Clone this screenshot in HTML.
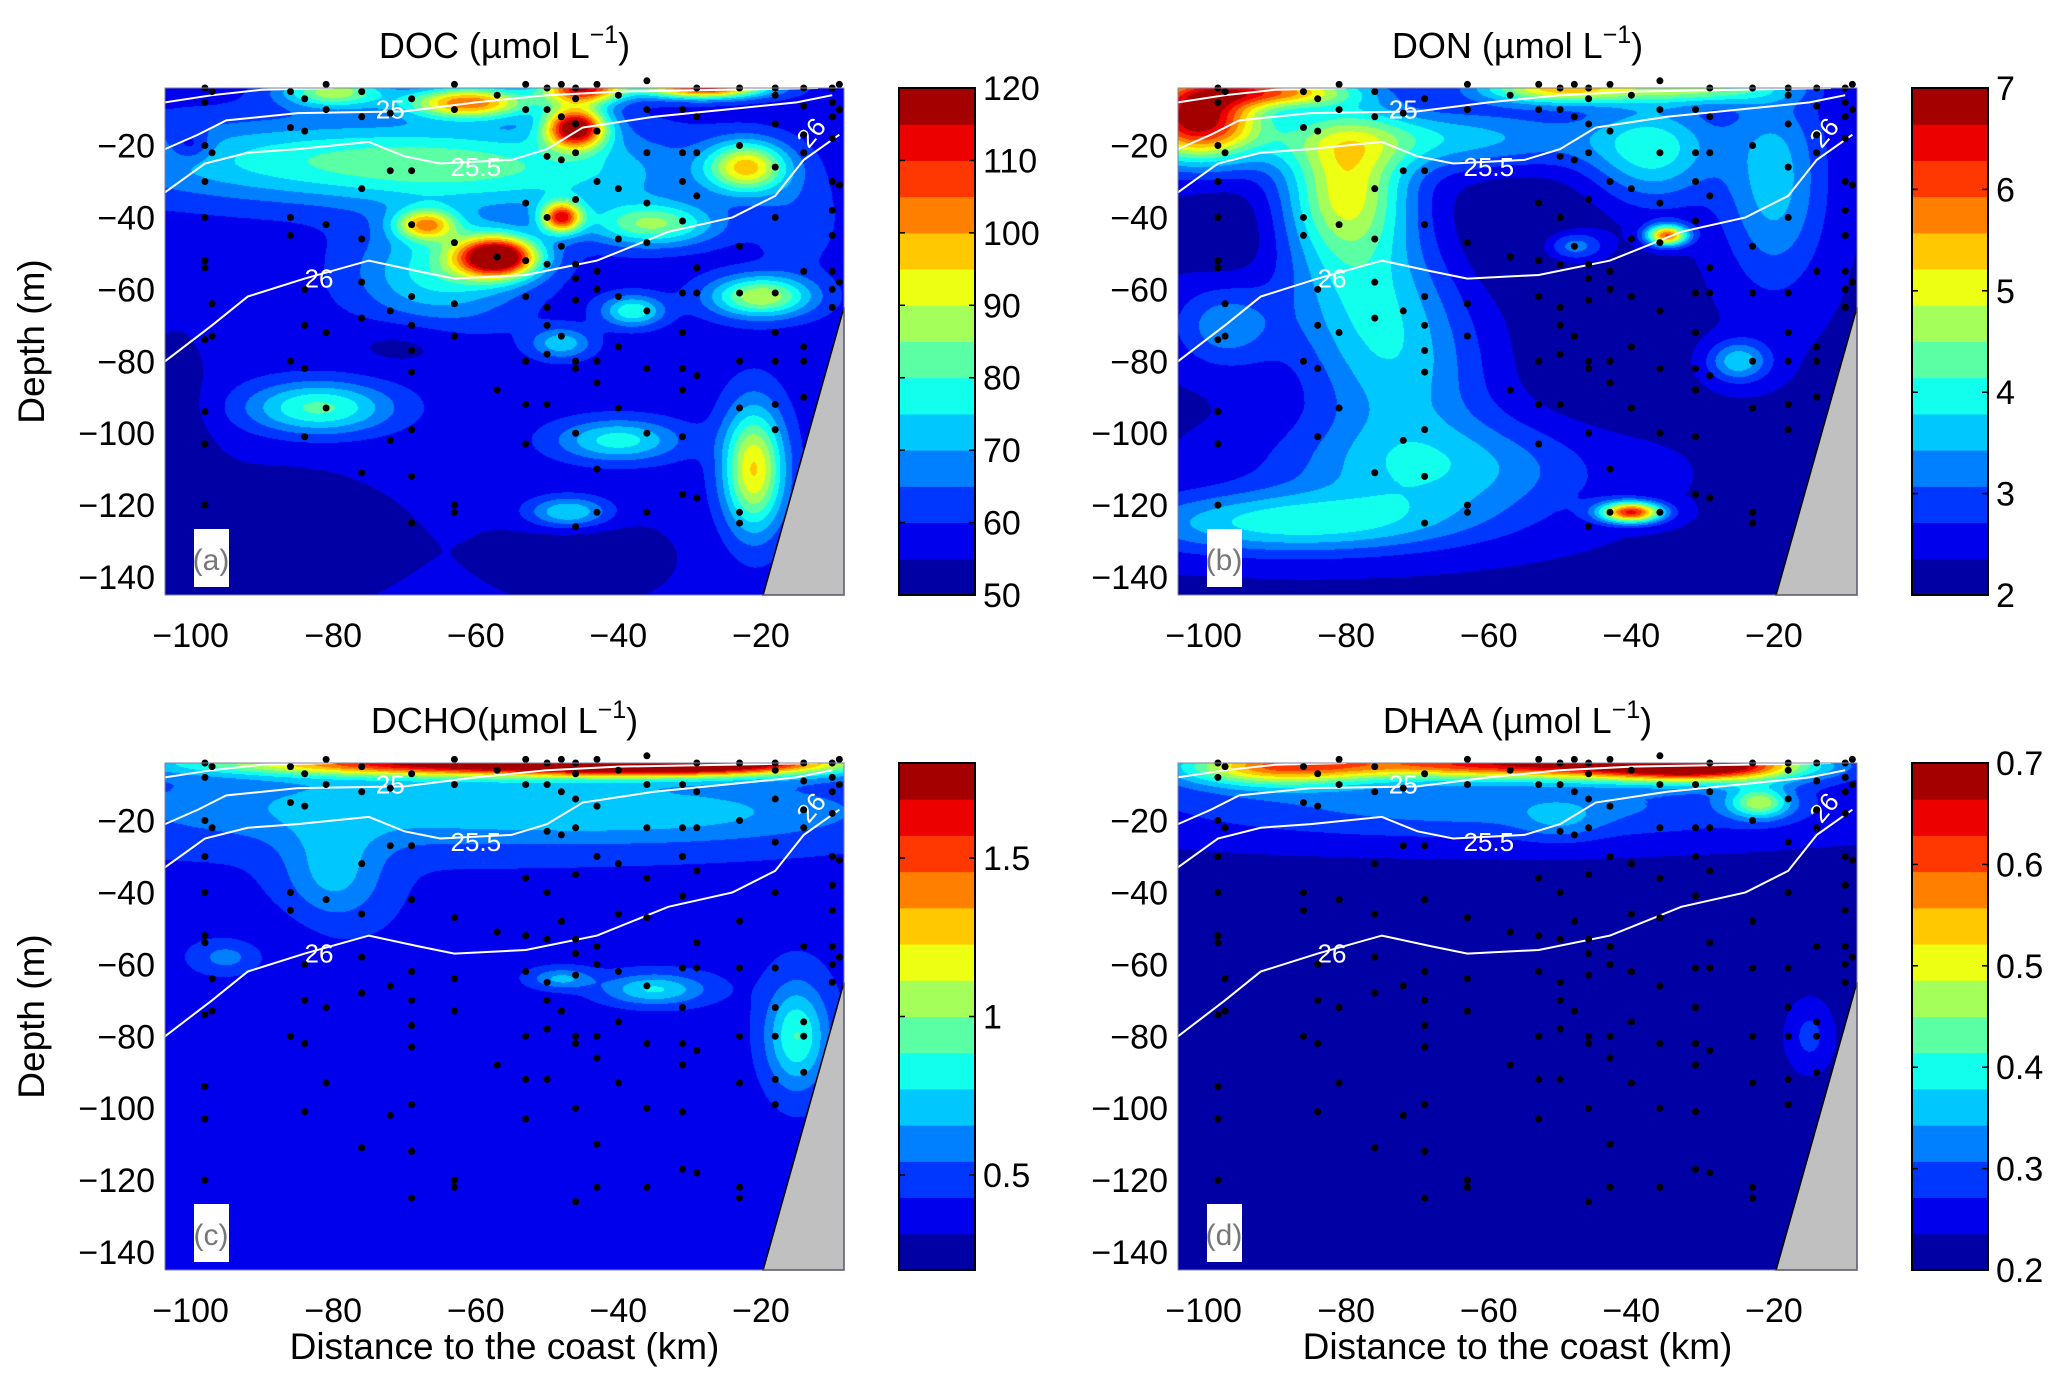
<!DOCTYPE html>
<html><head><meta charset="utf-8"><style>
body{margin:0;background:#fff;}
#root{position:relative;width:2067px;height:1385px;overflow:hidden;background:#fff;font-family:"Liberation Sans",sans-serif;}
canvas{position:absolute;}
svg{position:absolute;left:0;top:0;}
</style></head><body>
<div id="root">
<svg id="ov" width="2067" height="1385"></svg>
</div>
<script>
// ---- data ----
const xDomain=[-103.6,-8.35];
const yDomain=[-4,-145];
const xTicks=[-100,-80,-60,-40,-20];
const yTicks=[-20,-40,-60,-80,-100,-120,-140];
const titles=["DOC (µmol L","DON (µmol L","DCHO(µmol L","DHAA (µmol L"];
const panelLetters=["(a)","(b)","(c)","(d)"];
const ranges=[[50,120],[2,7],[0.2,1.8],[0.2,0.7]];
const cbTicksA=[50,60,70,80,90,100,110,120];
const cbTicksB=[2,3,4,5,6,7];
const cbTicksC=[0.5,1,1.5];
const cbTicksD=[0.2,0.3,0.4,0.5,0.6,0.7];
const backgrounds=[57.5,2.3,0.4,0.225];
// blobs: [x, depth, amplitude, sx, sy]
const blobsA=[[-57,-51,66,4,4],[-46,-15,60,3,4],[-61,-8,45,6,3],[-45,-4,55,4,3],[-28,-4,55,6,2],[-80,-5,30,5,3],[-67,-42,35,3,3],[-48,-40,48,2,3],[-85,-24,18,20,8],[-60,-26,16,15,8],[-22,-26,38,4,5],[-35,-42,25,6,4],[-65,-55,20,8,10],[-82,-93,24,7,5],[-40,-102,20,6,4],[-21,-110,38,3,12],[-47,-122,20,4,3],[-20,-62,32,5,4],[-38,-66,22,3,3],[-48,-75,16,3,3],[-90,-130,-7,15,15],[-45,-135,-6,10,10],[-70,-75,-5,6,5],[-102,-95,-5,4,20],[-100,-20,-10,2,3],[-40,-30,8,10,10],[-15,-40,6,4,10]];
const blobsB=[[-101,-12,4.5,6,8],[-90,-5,3,8,3],[-50,-4,3,8,3],[-30,-4,2,8,3],[-80,-32,2.6,6,14],[-77,-62,1.2,8,15],[-35,-45,3.6,2,2],[-40,-122,4,3,2],[-88,-125,1.6,16,6],[-68,-110,1.3,15,10],[-72,-85,1,8,15],[-37,-22,1.5,6,10],[-20,-30,1.3,5,20],[-48,-48,1.2,3,3],[-25,-80,1.4,3,4],[-97,-70,1,5,8],[-70,-18,1.4,20,6],[-45,-80,-0.3,8,15],[-95,-45,-0.3,5,10],[-55,-45,-0.4,8,12]];
const blobsC=[[-60,-4,1.3,25,2.5],[-30,-4,1.3,15,2.5],[-70,-16,0.3,30,8],[-30,-18,0.2,20,6],[-80,-35,0.3,5,10],[-15,-80,0.5,3,10],[-35,-67,0.4,5,3],[-48,-64,0.3,3,2],[-95,-58,0.2,3,3],[-60,-90,-0.07,25,15],[-30,-120,-0.06,8,8],[-85,-50,-0.05,6,8]];
const blobsD=[[-55,-4,0.42,20,3],[-30,-5,0.38,10,3],[-90,-5,0.28,10,4],[-60,-16,0.1,35,7],[-15,-80,0.06,2,6],[-50,-20,0.05,4,4],[-22,-15,0.2,3,3]];
const stations=[[-98,[-4,-8,-20,-30,-40,-52,-54,-74,-94,-103,-120]],[-97,[-5,-22,-64,-73]],[-86,[-5,-15,-40,-45,-80]],[-84,[-7,-16,-60,-70,-82,-101]],[-81,[-3,-10,-42,-72,-93]],[-76,[-5,-12,-32,-46,-58,-68,-111]],[-72,[-11,-27,-66,-102]],[-69,[-7,-27,-42,-62,-70,-77,-83,-99,-112,-125]],[-63,[-3,-10,-47,-64,-73,-120,-122]],[-57,[-6,-51,-88]],[-53,[-3,-10,-36,-52,-62,-80,-92,-103]],[-50,[-4,-10,-23,-40,-53,-65,-70,-78,-92]],[-48,[-3,-12,-24,-48,-73]],[-46,[-4,-7,-14,-22,-35,-53,-57,-63,-80,-82,-100,-126]],[-43,[-3,-16,-30,-55,-60,-80,-86,-110,-122]],[-40,[-6,-32,-46,-62,-76,-93]],[-36,[-2,-10,-22,-36,-47,-66,-82,-100,-122]],[-31,[-10,-22,-30,-41,-61,-72,-82,-88,-101,-117]],[-29,[-4,-12,-22,-34,-54,-61,-84,-118]],[-23,[-4,-20,-48,-61,-80,-93,-122,-125]],[-18,[-4,-6,-14,-26,-40,-61,-72,-80,-92,-99]],[-14,[-4,-9,-17,-22,-55,-76,-80,-90]],[-10,[-4,-8,-12,-18,-30,-38,-45,-55,-60,-65]],[-9,[-3,-10,-31,-58]]];
const iso25a=[[-103.6,-8],[-97,-6],[-90,-4.5],[-80,-4]];
const iso25=[[-103.6,-21],[-99,-17],[-95,-13],[-85,-11],[-70,-10.5],[-60,-8],[-50,-6],[-40,-5],[-25,-4.5],[-12,-4]];
const iso255=[[-103.6,-33],[-98,-25],[-92,-22],[-85,-21],[-75,-19],[-70,-23],[-65,-25],[-55,-24],[-50,-21],[-45,-15],[-35,-12],[-25,-10],[-15,-8],[-10,-6]];
const iso26=[[-103.6,-80],[-97,-70],[-92,-62],[-84,-57],[-75,-52],[-68,-55],[-63,-57],[-53,-56],[-43,-52],[-33,-44],[-24,-40],[-18,-34],[-14,-24],[-9,-17]];
const coastTop=-65, coastBottomX=-19.7;

// ---- layout ----
const panels=[{L:165,T:88},{L:1178,T:88},{L:165,T:763},{L:1178,T:763}];
const W=679,H=507,NB=14;
const blobs=[blobsA,blobsB,blobsC,blobsD];
const cbTicks=[cbTicksA,cbTicksB,cbTicksC,cbTicksD];
const NS="http://www.w3.org/2000/svg";
const ov=document.getElementById('ov');
const root=document.getElementById('root');
function jet(t){const c=v=>Math.round(255*Math.max(0,Math.min(1,v)));return [c(1.5-Math.abs(4*t-3)),c(1.5-Math.abs(4*t-2)),c(1.5-Math.abs(4*t-1))];}
const bandCol=[];for(let i=0;i<NB;i++)bandCol.push(jet((i+0.5)/NB));
function mk(tag,attrs,parent){const e=document.createElementNS(NS,tag);for(const k in attrs)e.setAttribute(k,attrs[k]);(parent||ov).appendChild(e);return e;}

panels.forEach((p,pi)=>{
  const sx=x=>p.L+(x-xDomain[0])/(xDomain[1]-xDomain[0])*W;
  const sy=y=>p.T+(y-yDomain[0])/(yDomain[1]-yDomain[0])*H;
  const [vmin,vmax]=ranges[pi];
  const cv=document.createElement('canvas');cv.width=W;cv.height=H;cv.style.left=p.L+'px';cv.style.top=p.T+'px';
  
  
  root.insertBefore(cv,ov);
  const ctx=cv.getContext('2d');const img=ctx.createImageData(W,H);
  const bl=blobs[pi];
  for(let j=0;j<H;j++){const y=yDomain[0]+(j+0.5)/H*(yDomain[1]-yDomain[0]);
    for(let i=0;i<W;i++){const x=xDomain[0]+(i+0.5)/W*(xDomain[1]-xDomain[0]);
      let v=backgrounds[pi];
      for(const b of bl){const dx=(x-b[0])/b[3],dy=(y-b[1])/b[4];const d=dx*dx+dy*dy;if(d<12)v+=b[2]*Math.exp(-0.5*d);}
      let k=Math.floor((v-vmin)/(vmax-vmin)*NB);k=Math.max(0,Math.min(NB-1,k));
      const c=bandCol[k];const o=(j*W+i)*4;img.data[o]=c[0];img.data[o+1]=c[1];img.data[o+2]=c[2];img.data[o+3]=255;}}
  ctx.putImageData(img,0,0);
  const g=mk('g',{});
  const coast=mk('polygon',{points:`${sx(coastBottomX)},${p.T+H} ${p.L+W},${p.T+H} ${p.L+W},${sy(coastTop)}`,fill:'#c0c0c0',stroke:'#000','stroke-width':1.5},g);
  
  [[iso25a,null],[iso25,'25',-72,-10],[iso255,'25.5',-60,-26],[iso26,'26',-82,-57]].forEach(([pts,lab,lx,ly])=>{
    const pl=mk('polyline',{points:pts.map(q=>sx(q[0])+','+sy(q[1])).join(' '),fill:'none',stroke:'#fff','stroke-width':2},g);
    
    if(!lab)return;
    const t=mk('text',{x:sx(lx),y:sy(ly)+9,'font-size':26,fill:'#fff','text-anchor':'middle'},g);t.textContent=lab;
    
  });
  const t26=mk('text',{x:sx(-12),y:sy(-18),'font-size':26,fill:'#fff','text-anchor':'middle',transform:`rotate(-50 ${sx(-12)} ${sy(-18)})`},g);t26.textContent='26';
  
  stations.forEach(s=>s[1].forEach(d=>{const c=mk('circle',{cx:sx(s[0]),cy:sy(d),r:3.5,fill:'#000'},g);
    }));
  mk('rect',{x:p.L,y:p.T,width:W,height:H,fill:'none',stroke:'#8080a0','stroke-width':1},g);
  mk('rect',{x:p.L+29,y:p.T+441,width:35,height:58,fill:'#fff'},g);
  const lt=mk('text',{x:p.L+46,y:p.T+482,'font-size':30,fill:'#777','text-anchor':'middle'},g);lt.textContent=panelLetters[pi];
  
  xTicks.forEach(v=>{const t=mk('text',{x:sx(v),y:p.T+H+52,'font-size':34,'text-anchor':'middle',fill:'#000'},g);t.textContent=String(v).replace('-','\u2212');
    });
  yTicks.forEach(v=>{const t=mk('text',{x:p.L-10,y:sy(v)+12,'font-size':34,'text-anchor':'end',fill:'#000'},g);t.textContent=String(v).replace('-','\u2212');
    });
  const ti=mk('text',{x:p.L+W/2,y:p.T-30,'font-size':36,'text-anchor':'middle',fill:'#000'},g);
  ti.innerHTML=titles[pi]+'<tspan dy="-15" font-size="25">−1</tspan><tspan dy="15">)</tspan>';
  
  if(pi%2==0){const yl=mk('text',{x:44,y:p.T+H/2,'font-size':37,'text-anchor':'middle',transform:`rotate(-90 44 ${p.T+H/2})`},g);yl.textContent='Depth (m)';
    }
  if(pi>=2){const xl=mk('text',{x:p.L+W/2,y:1359,'font-size':37,'text-anchor':'middle'},g);xl.textContent='Distance to the coast (km)';
    }
  const cbx=p.L+734,cbw=76;const cbg=mk('g',{},g);
  for(let i=0;i<NB;i++){const c=bandCol[i];mk('rect',{x:cbx,y:p.T+H-(i+1)*H/NB,width:cbw,height:H/NB+0.5,fill:`rgb(${c})`},cbg);}
  mk('rect',{x:cbx,y:p.T,width:cbw,height:H,fill:'none',stroke:'#000','stroke-width':2},cbg);
  cbTicks[pi].forEach(v=>{const yy=p.T+H-(v-vmin)/(vmax-vmin)*H;
    mk('line',{x1:cbx,x2:cbx+6,y1:yy,y2:yy,stroke:'#000','stroke-width':1.5},cbg);
    mk('line',{x1:cbx+cbw-6,x2:cbx+cbw,y1:yy,y2:yy,stroke:'#000','stroke-width':1.5},cbg);
    const t=mk('text',{x:cbx+cbw+8,y:yy+12,'font-size':34,fill:'#000'},cbg);t.textContent=String(v);
    });
});
</script>
</body></html>
